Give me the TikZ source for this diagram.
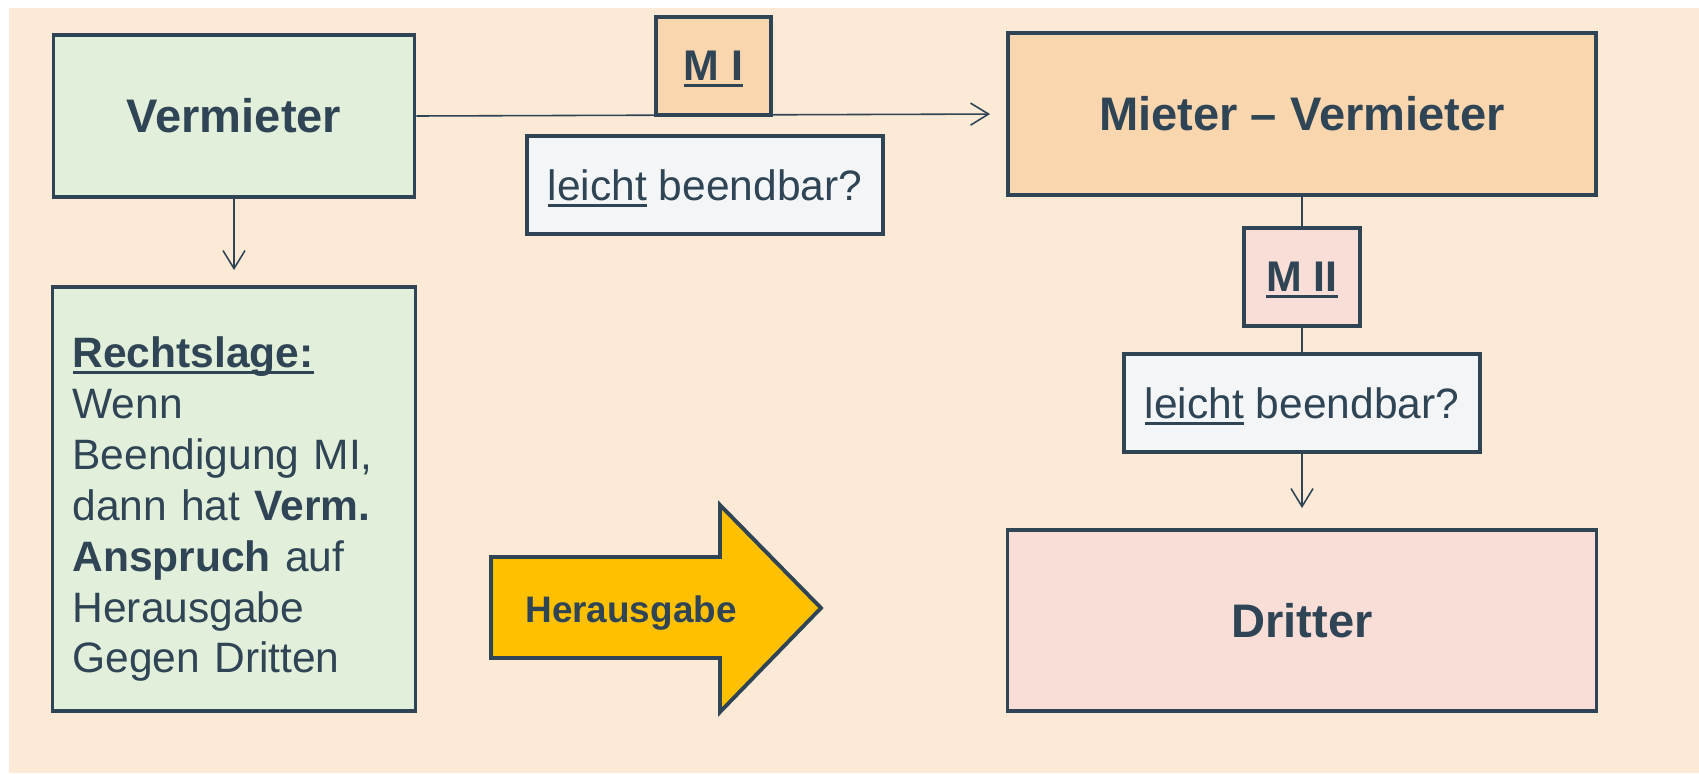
\documentclass[tikz,border=0pt]{standalone}
\usepackage{fontspec}
\setmainfont{Liberation Sans}
\usetikzlibrary{arrows.meta,positioning}
\definecolor{Slate}{HTML}{2F4555}
\definecolor{Peach}{HTML}{FCE9D6}
\definecolor{Mint}{HTML}{E2EFDA}
\definecolor{Apricot}{HTML}{F9D6AE}
\definecolor{Rose}{HTML}{F8DED7}
\definecolor{Cloud}{HTML}{F4F5F7}
\definecolor{Amber}{HTML}{FFC000}
\newcommand{\ulin}[1]{\leavevmode\setbox0\hbox{#1}\rlap{\smash{\rule[-1.8pt]{\wd0}{0.8pt}}}\box0\relax}
\tikzset{
  box/.style={draw=Slate,line width=1.1pt,text=Slate,inner sep=0pt,align=center},
  big/.style={font=\fontsize{13.4}{16}\selectfont\bfseries},
  small/.style={font=\fontsize{12.1}{14}\selectfont},
  link/.style={draw=Slate,line width=0.45pt},
  tip/.style={-{Straight Barb[length=1.8mm,width=2.2mm]}}
}

\begin{document}
\begin{tikzpicture}[x=0.1mm,y=-0.1mm]
        \useasboundingbox (0,0) rectangle (1699,773);
        \fill[Peach] (9,8) rectangle (1699,773);
        % left column
        \node[box,big,fill=Mint,minimum width=36.1mm,minimum height=16.2mm] (verm) at (234,116) {Vermieter};
        \node[box,fill=Mint,text width=32.3mm,inner xsep=2mm,minimum height=42.4mm,align=left,
              font=\fontsize{12.1}{14.5}\selectfont] (recht) at (234,499)
          {\rule{0pt}{5.1mm}\textbf{\ulin{Rechtslage:}}\\Wenn\\Beendigung MI,\\dann hat \textbf{Verm.}\\\textbf{Anspruch} auf\\Herausgabe\\Gegen Dritten};
        % first contract
        \node[box,fill=Apricot,minimum width=11.5mm,minimum height=9.8mm,font=\fontsize{12.2}{14}\selectfont\bfseries] (mi) at (713.5,66) {\ulin{M I}};
        \node[box,small,fill=Cloud,minimum width=35.6mm,minimum height=9.8mm] (lbi) at (705,185) {\ulin{leicht} beendbar?};
        % right column
        \node[box,big,fill=Apricot,minimum width=58.8mm,minimum height=16.2mm] (mv) at (1302,114) {Mieter -- Vermieter};
        \node[box,fill=Rose,minimum width=11.6mm,minimum height=9.8mm,font=\fontsize{12.2}{14}\selectfont\bfseries] (mii) at (1302,277) {\ulin{M II}};
        \node[box,small,fill=Cloud,minimum width=35.6mm,minimum height=9.8mm] (lbii) at (1302,403) {\ulin{leicht} beendbar?};
        \node[box,big,fill=Rose,minimum width=58.9mm,minimum height=18.1mm] (drit) at (1302,620.5) {Dritter};
        % connectors
        \draw[link,tip,shorten >=1.6mm] (verm.east) -- (mv.west);
        \draw[link,tip,shorten >=1.5mm] (verm.south) -- (recht.north);
        \draw[link] (mv.south) -- (mii.north);
        \draw[link] (mii.south) -- (lbii.north);
        \draw[link,tip,shorten >=2mm] (lbii.south) -- (drit.north);
        % block arrow
        \draw[Slate,fill=Amber,line width=1.1pt] (491,557) -- (720,557) -- (720,505) -- (821,608)
          -- (720,712) -- (720,658) -- (491,658) -- cycle;
        \node[text=Slate,anchor=base,font=\fontsize{10.5}{12}\selectfont\bfseries] (heraus) at (631,622) {Herausgabe};
      \end{tikzpicture}
\end{document}
